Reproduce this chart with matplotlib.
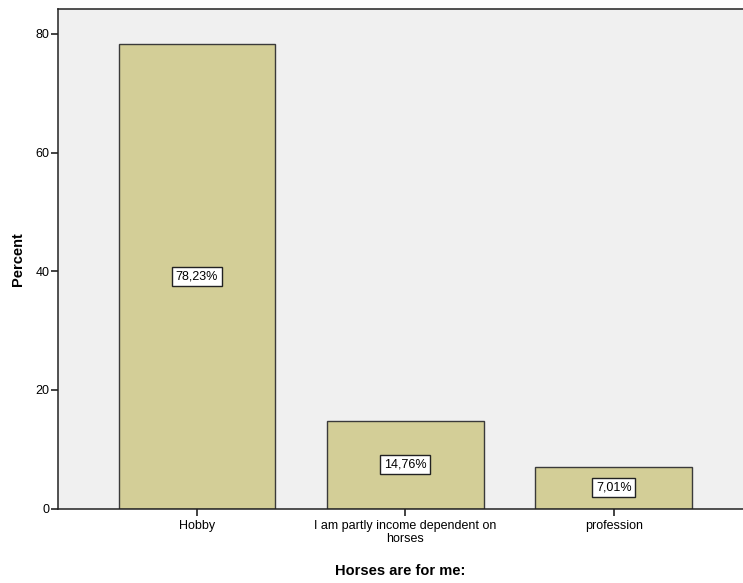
import matplotlib.pyplot as plt
import numpy as np

plt.rcParams['font.family'] = ['Liberation Sans', 'DejaVu Sans']

categories = ["Hobby", "I am partly income dependent on\nhorses", "profession"]
percents = [78.23, 14.76, 7.01]
bar_labels = ["78,23%", "14,76%", "7,01%"]
yticks = [0, 20, 40, 60, 80]

fig = plt.figure(figsize=(7.43, 5.83), dpi=100)
ax = fig.add_axes([58 / 743, 1 - 508.5 / 583, 685 / 743, 499.5 / 583])
ax.set_facecolor("#f0f0f0")

x = np.arange(len(categories))
ax.bar(x, percents, width=0.753, color="#d3ce97", edgecolor="#3a3a3a", linewidth=1.0, zorder=2)

# value labels in white boxes at half height
for xi, val, lab in zip(x, percents, bar_labels):
    ax.text(xi, val / 2, lab, ha="center", va="center", fontsize=9, zorder=3,
            bbox=dict(boxstyle="square,pad=0.3", facecolor="white", edgecolor="#222222", linewidth=1.0))

ax.set_xlim(-0.667, 2.62)
ax.set_ylim(0, 84.2)
ax.set_yticks(yticks)
ax.set_xticks(x)
ax.set_xticklabels(categories, fontsize=9, linespacing=1.1)
ax.tick_params(axis="y", labelsize=9, length=5, width=1.2, color="#222222", pad=1)
ax.tick_params(axis="x", length=5, width=1.2, color="#222222", pad=3)

for side in ["left", "bottom", "top"]:
    ax.spines[side].set_color("#222222")
    ax.spines[side].set_linewidth(1.1)
ax.spines["right"].set_visible(False)

ax.set_ylabel("Percent", fontsize=10.5, fontweight="bold", labelpad=8)
ax.set_xlabel("Horses are for me:", fontsize=10.5, fontweight="bold", labelpad=14)

fig.savefig("out.png", dpi=100)
